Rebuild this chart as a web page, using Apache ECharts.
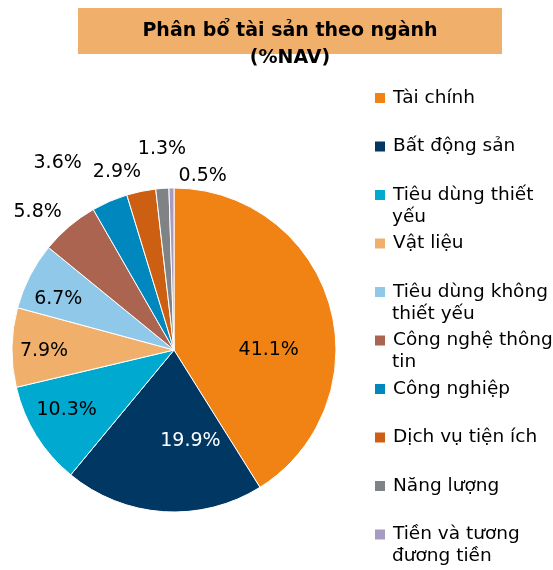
<!DOCTYPE html>
<html>
<head>
<meta charset="utf-8">
<script src="https://cdn.jsdelivr.net/npm/echarts@6/dist/echarts.min.js"></script>
<style>
  html, body { margin: 0; padding: 0; background: #fff; }
  #chart { width: 553px; height: 570px; }
</style>
</head>
<body>
<div id="chart"></div>
<script>
// sectors (% of NAV)
const sectors = ['Tài chính', 'Bất động sản', 'Tiêu dùng thiết yếu', 'Vật liệu', 'Tiêu dùng không thiết yếu',
  'Công nghệ thông tin', 'Công nghiệp', 'Dịch vụ tiện ích', 'Năng lượng', 'Tiền và tương đương tiền'];
const shares = [41.1, 19.9, 10.3, 7.9, 6.7, 5.8, 3.6, 2.9, 1.3, 0.5];
const colors = ['#F08314', '#003763', '#00A9D0', '#F0B06C', '#8FC8E8', '#AA6450', '#0087BD', '#CD5F13', '#7F8386', '#A89BC3'];
// legend text is wrapped like in the original
const legendLines = {
  'Tiêu dùng thiết yếu': ['Tiêu dùng thiết', 'yếu'],
  'Tiêu dùng không thiết yếu': ['Tiêu dùng không', 'thiết yếu'],
  'Công nghệ thông tin': ['Công nghệ thông', 'tin'],
  'Tiền và tương đương tiền': ['Tiền và tương', 'đương tiền']
};

// label nudges from the default inside spot (Excel "best fit" placement)
const labelShift = [[14, 23], [22, 7], [-36, 16], [-46, 2], [-41, -13],
  [-82, -74], [-83, -110], [-40, -96], [-6, -117], [30, -90]];

const font = 'DejaVu Sans';
const fontSize = 19;
const legendSize = 18.5;
const legendTop = 87, legendStep = 48.5;

const chart = echarts.init(document.getElementById('chart'), null, { renderer: 'canvas' });

const data = sectors.map((name, i) => ({
  name: name,
  value: shares[i],
  itemStyle: { color: colors[i] },
  label: { color: i === 1 ? '#fff' : '#000' }
}));

// second lines of wrapped legend entries
const extraText = [];
sectors.forEach((name, i) => {
  if (legendLines[name]) {
    extraText.push({
      type: 'text',
      x: 392,
      y: legendTop + i * legendStep + 11 + 22,
      style: {
        text: legendLines[name][1], font: legendSize + 'px "' + font + '"', fill: '#000',
        verticalAlign: 'middle'
      }
    });
  }
});

chart.setOption({
  animation: false,
  color: colors,
  graphic: [
    { type: 'rect', shape: { x: 78, y: 8, width: 424, height: 46 }, style: { fill: '#F0B06C' } },
    { type: 'text', x: 290, y: 31,
      style: { text: 'Phân bổ tài sản theo ngành', font: 'bold ' + fontSize + 'px "' + font + '"',
        fill: '#000', align: 'center', verticalAlign: 'middle' } },
    { type: 'text', x: 290, y: 58,
      style: { text: '(%NAV)', font: 'bold ' + fontSize + 'px "' + font + '"',
        fill: '#000', align: 'center', verticalAlign: 'middle' } }
  ].concat(extraText),
  legend: {
    orient: 'vertical',
    left: 368,
    top: legendTop - 5,
    itemWidth: 12,
    itemHeight: 12,
    itemGap: legendStep - 22,
    icon: 'rect',
    data: sectors,
    formatter: name => legendLines[name] ? legendLines[name][0] : name,
    textStyle: { fontFamily: font, fontSize: legendSize, lineHeight: 22, color: '#000', padding: [0, 0, 0, 2] }
  },
  series: [{
    type: 'pie',
    center: [174, 350],
    radius: 162,
    startAngle: 90,
    clockwise: true,
    avoidLabelOverlap: false,
    data: data,
    itemStyle: { borderColor: '#fff', borderWidth: 1 },
    label: {
      position: 'inside',
      fontFamily: font,
      fontSize: fontSize,
      formatter: p => p.value.toFixed(1) + '%'
    },
    labelLine: { show: false },
    labelLayout: p => ({ dx: labelShift[p.dataIndex][0], dy: labelShift[p.dataIndex][1] }),
    emphasis: { disabled: true }
  }]
});
</script>
</body>
</html>
